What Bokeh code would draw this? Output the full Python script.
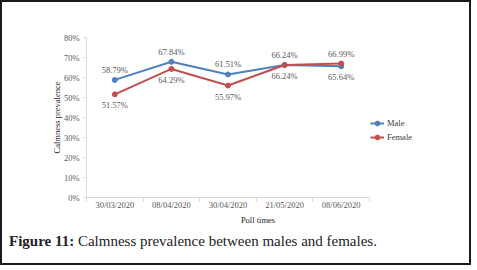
from bokeh.plotting import figure
from bokeh.models import FixedTicker, Legend, LegendItem, ColumnDataSource, Range1d, Div, Title
from bokeh.layouts import column
from bokeh.core.properties import value
from bokeh.embed import file_html
from bokeh.resources import INLINE

poll_times = ["30/03/2020", "08/04/2020", "30/04/2020", "21/05/2020", "08/06/2020"]
male = [58.79, 67.84, 61.51, 66.24, 65.64]
female = [51.57, 64.29, 55.97, 66.24, 66.99]
male_label_side = ["above", "above", "above", "above", "below"]
female_label_side = ["below", "below", "below", "below", "above"]
y_ticks = [0, 10, 20, 30, 40, 50, 60, 70, 80]

MALE_C = "#4F81BD"
FEMALE_C = "#C0504D"
FONT = "Liberation Serif"
GRAY = "#595959"

n = len(poll_times)
xs = [i + 0.5 for i in range(n)]

# frame wider than the category axis so the legend (inside the frame) sits right of it
AXIS_PX = 283
FRAME_PX = 343
LEFT = 84
p = figure(width=457, height=225, output_backend="svg", toolbar_location=None,
           x_range=Range1d(0, n * FRAME_PX / AXIS_PX), y_range=Range1d(0, 80),
           min_border_left=LEFT, min_border_right=457 - LEFT - FRAME_PX,
           min_border_top=35, min_border_bottom=30)
p.outline_line_color = None
p.xgrid.visible = False
p.ygrid.visible = False
p.background_fill_color = "white"
p.border_fill_color = "white"

def make_src(vals, sides):
    return ColumnDataSource(dict(
        x=xs, y=vals,
        txt=[f"{v:.2f}%" for v in vals],
        off=[-10 if s == "above" else 11 for s in sides],
    ))

ms = make_src(male, male_label_side)
fs = make_src(female, female_label_side)

r_ml = p.line("x", "y", source=ms, line_color=MALE_C, line_width=2)
r_mc = p.scatter("x", "y", source=ms, size=5, fill_color=MALE_C, line_color=MALE_C)
r_fl = p.line("x", "y", source=fs, line_color=FEMALE_C, line_width=2)
r_fc = p.scatter("x", "y", source=fs, size=5, fill_color=FEMALE_C, line_color=FEMALE_C)

for src in (ms, fs):
    p.text("x", "y", text="txt", source=src, y_offset="off", text_align="center",
           text_baseline="middle", text_font=value(FONT), text_font_size="8.5px",
           text_color=GRAY)

# axes
xa = p.xaxis[0]
xa.bounds = (0, n)
xa.ticker = FixedTicker(ticks=xs, minor_ticks=list(range(n + 1)))
xa.major_label_overrides = {x: t for x, t in zip(xs, poll_times)}
xa.major_tick_line_color = None
xa.major_tick_out = 0
xa.minor_tick_line_color = "#d9d9d9"
xa.minor_tick_out = 4
xa.minor_tick_in = 0
xa.axis_line_color = "#d9d9d9"
xa.major_label_standoff = -2

ya = p.yaxis[0]
ya.ticker = FixedTicker(ticks=y_ticks, minor_ticks=[])
ya.major_label_overrides = {t: f"{t}%" for t in y_ticks}
ya.axis_line_color = "#d9d9d9"
ya.major_tick_line_color = "#d9d9d9"
ya.major_tick_out = 3
ya.major_tick_in = 0
ya.major_label_standoff = 4
ya.axis_label = "Calmness prevalence"
ya.axis_label_standoff = -1

for ax in (xa, ya):
    ax.major_label_text_font = FONT
    ax.major_label_text_font_size = "8.5px"
    ax.major_label_text_color = GRAY
    ax.axis_label_text_font = FONT
    ax.axis_label_text_font_size = "8.5px"
    ax.axis_label_text_font_style = "normal"
    ax.axis_label_text_color = "#262626"

# x-axis title centred under the category axis (not the whole frame)
xt = Title(text="Poll times", align="center", offset=-(FRAME_PX - AXIS_PX) / 2,
           text_font=FONT, text_font_size="8.5px", text_font_style="normal",
           text_color="#262626", standoff=0)
p.add_layout(xt, "below")

legend = Legend(items=[LegendItem(label="Male", renderers=[r_ml, r_mc]),
                       LegendItem(label="Female", renderers=[r_fl, r_fc])],
                location=(AXIS_PX + 1, 54), padding=0, margin=0, spacing=2,
                glyph_width=14, glyph_height=12, label_height=12, label_standoff=3,
                border_line_color=None, background_fill_alpha=0,
                label_text_font=FONT, label_text_font_size="8.5px", label_text_color="#404040")
p.add_layout(legend, "center")

cap = Div(text='<b>Figure 11:</b> Calmness prevalence between males and females.',
          width=457, height=26,
          styles={"font-family": "'Liberation Serif', serif", "font-size": "15px",
                  "color": "#222222", "padding-left": "2px", "line-height": "18px"})

lay = column(p, cap, spacing=0,
             styles={"border": "2px solid #1a1a1a", "background": "white"})

open("out.html", "w").write(file_html(lay, INLINE))
